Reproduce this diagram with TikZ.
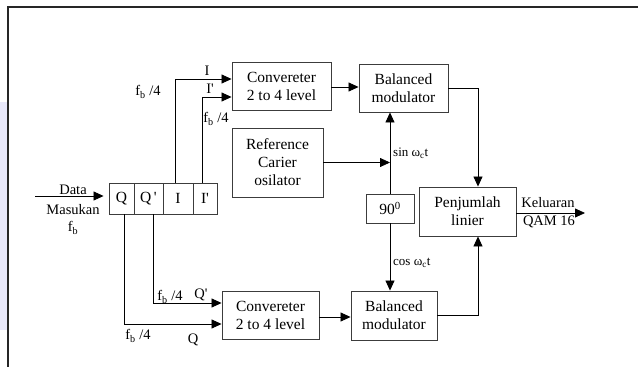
\documentclass[tikz,border=0pt]{standalone}
\usepackage{fontspec}
\setmainfont{Liberation Serif}
\usepackage{tikz}
\usetikzlibrary{arrows.meta, calc}
\usepackage{xcolor}
\definecolor{garis}{RGB}{60,60,60}
\definecolor{lavender}{RGB}{232,232,250}
\newcommand{\ptk}{\textquotesingle}
\tikzset{
    blok/.style={draw=garis, line width=0.9pt, align=center, inner sep=0pt,
        font=\fontsize{15.5}{18}\selectfont},
    sel/.style={draw=garis, line width=0.9pt, inner sep=0pt, minimum height=31pt,
        font=\fontsize{15.5}{18}\selectfont},
    sinyal/.style={draw=black, line width=0.8pt},
    panah/.style={sinyal, -{Triangle[length=10pt,width=9pt]}},
    ket/.style={font=\fontsize{14.5}{16}\selectfont, inner sep=0pt},
    ketkecil/.style={font=\fontsize{13}{15}\selectfont, inner sep=0pt}
}

\begin{document}
\begin{tikzpicture}[x=1pt, y=-1pt]
    \useasboundingbox (0,0) rectangle (638,367);
    % bingkai
    \fill[lavender] (0,102) rectangle (7,330);
    \draw[line width=1.4pt, black!85] (638,7) -- (8,7) -- (8,367);

    % blok-blok
    \node[blok, minimum width=99pt, minimum height=48pt] (conv1) at (281.5,86) {Convereter\\2 to 4 level};
    \node[blok, minimum width=89pt, minimum height=48pt] (bal1) at (403.5,88) {Balanced\\modulator};
    \node[blok, minimum width=91pt, minimum height=69pt] (ref) at (277.5,162.5) {Reference\\Carier\\osilator};
    \node[blok, minimum width=48pt, minimum height=29pt] (geser) at (390,208.5) {90\textsuperscript{0}};
    \node[blok, minimum width=97pt, minimum height=49pt] (jumlah) at (467.5,211.5) {Penjumlah\\linier};
    \node[blok, minimum width=97pt, minimum height=48pt] (conv2) at (270.5,315) {Convereter\\2 to 4 level};
    \node[blok, minimum width=86pt, minimum height=49pt] (bal2) at (394,315.5) {Balanced\\modulator};

    % register masukan
    \node[sel, minimum width=25pt] (regQ) at (121.5,198.5) {Q};
    \node[sel, minimum width=29pt] (regQa) at (148.5,198.5) {Q\,\ptk};
    \node[sel, minimum width=30pt] (regI) at (178,198.5) {I};
    \node[sel, minimum width=24pt] (regIa) at (205,198.5) {I\ptk};

    \coordinate (masuk) at (35,196);
    \coordinate (keluar) at (585,213);

    % jalur sinyal
    \draw[panah, shorten >=5pt] (masuk) -- (masuk -| regQ.west);
    \draw[panah] ([xshift=-3pt]regI.north) |- ([yshift=7pt]conv1.west);
    \draw[panah] ([xshift=-3pt]regIa.north) |- ([yshift=-11pt]conv1.west);
    \draw[panah] ([xshift=4.5pt]regQa.south) |- ([yshift=12pt]conv2.west);
    \draw[panah] ([xshift=2.5pt]regQ.south) |- ([yshift=-9pt]conv2.west);
    \draw[panah] ([yshift=-1pt]conv1.east) -- ([yshift=-1pt]conv1.east -| bal1.west);
    \draw[panah] ([yshift=-2pt]conv2.east) -- ([yshift=-2pt]conv2.east -| bal2.west);
    \draw[panah] (ref.east) -- (ref.east -| geser.north);
    \draw[panah] (geser.north) -- (geser.north |- bal1.south);
    \draw[panah] (geser.south) -- (geser.south |- bal2.north);
    \draw[panah] (bal1.east) -| ([xshift=10.5pt]jumlah.north);
    \draw[panah] (bal2.east) -| ([xshift=10.5pt]jumlah.south);
    \draw[panah] ([yshift=-1.5pt]jumlah.east) -- (keluar);

    % keterangan
    \node[ket] (tData) at (73,190) {Data};
    \node[ket] (tMasukan) at (73,210) {Masukan};
    \node[ket] (tfb) at (73,228) {f\textsubscript{b}};
    \node[ket] (tI) at (207,71) {I};
    \node[ket] (tIa) at (210,89) {I\ptk};
    \node[ket] (tfb1) at (148,92) {f\textsubscript{b} /4};
    \node[ket] (tfb2) at (216,119) {f\textsubscript{b} /4};
    \node[ket] (tfb3) at (170,297) {f\textsubscript{b} /4};
    \node[ket] (tQa) at (201,295) {Q\ptk};
    \node[ket] (tfb4) at (138,336) {f\textsubscript{b} /4};
    \node[ket] (tQ) at (193,340) {Q};
    \node[ketkecil, anchor=west] (tsin) at (393,153) {sin ω\textsubscript{c}t};
    \node[ketkecil, anchor=west] (tcos) at (393,263) {cos ω\textsubscript{c}t};
    \node[ket] (tKel) at (548,203) {Keluaran};
    \node[ket] (tQAM) at (549,222) {QAM 16};
\end{tikzpicture}
\end{document}
